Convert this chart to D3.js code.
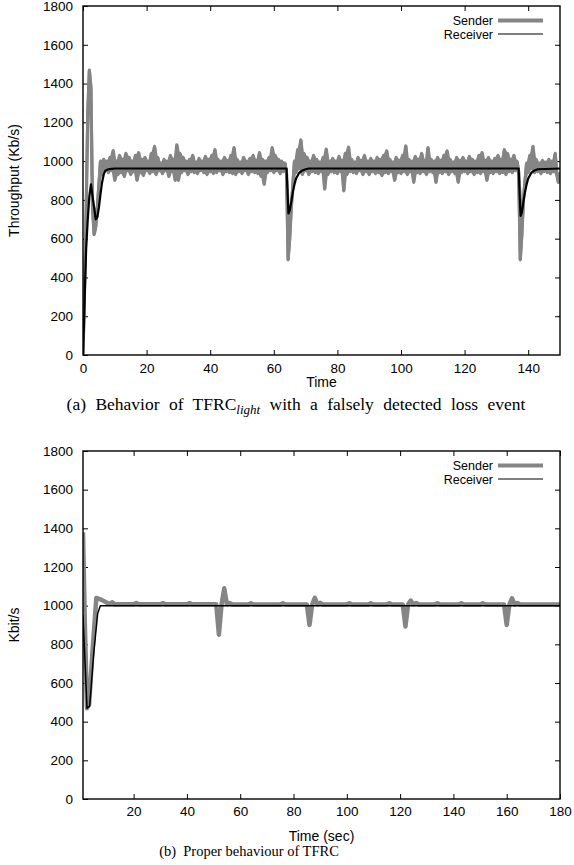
<!DOCTYPE html>
<html>
<head>
<meta charset="utf-8">
<script src="https://cdn.jsdelivr.net/npm/d3@7"></script>
<style>
  body { margin: 0; background: #fff; }
  svg { display: block; font-family: "Liberation Sans", Arial, sans-serif; }
</style>
</head>
<body>
<svg id="chart" width="574" height="865"></svg>
<script>
// ---- data ----
const yTicks = [0, 200, 400, 600, 800, 1000, 1200, 1400, 1600, 1800];
const topXTicks = [0, 20, 40, 60, 80, 100, 120, 140];
const bottomXTicks = [20, 40, 60, 80, 100, 120, 140, 160, 180];

// panel (a): sender sampled every 0.5 s from 0 to 150
const topSender = [
  0, 350, 750, 1250, 1470, 1380, 760, 620, 660, 760, 880, 1000, 930, 1010, 960, 1000, 940, 1020, 950, 1055,
  900, 1000, 930, 1030, 940, 1010, 920, 1040, 950, 1020, 930, 1000, 945, 1030, 900, 1045, 940, 1010, 925, 1020,
  950, 1000, 935, 1040, 945, 1077, 930, 1020, 950, 990, 935, 1010, 950, 1000, 920, 1030, 945, 1010, 900, 1085,
  900, 1040, 940, 1020, 950, 1000, 930, 1010, 945, 1030, 940, 995, 935, 1015, 950, 1000, 940, 1025, 930, 1010,
  945, 1030, 935, 1060, 940, 1010, 950, 1000, 930, 1020, 945, 1005, 940, 1030, 935, 1070, 930, 1010, 945, 995,
  935, 1020, 950, 1000, 930, 1015, 945, 1030, 940, 1005, 935, 1045, 920, 1010, 880, 1000, 940, 1020, 950, 1070,
  940, 1030, 950, 1010, 935, 1000, 945, 990, 940, 490, 600, 760, 880, 1000, 940, 1060, 960, 1110, 930, 1040,
  950, 1020, 930, 1000, 945, 1030, 940, 1010, 935, 995, 945, 1020, 855, 1063, 930, 1000, 945, 1015, 940, 1000,
  935, 1025, 945, 1005, 846, 1040, 930, 1073, 945, 1010, 940, 995, 935, 1020, 950, 1005, 930, 1030, 945, 1000,
  930, 1015, 945, 1000, 935, 1020, 940, 1010, 925, 1030, 940, 1053, 935, 1010, 945, 995, 900, 1020, 940, 1005,
  935, 1030, 945, 1079, 930, 1010, 945, 1000, 890, 1025, 940, 1010, 935, 1040, 945, 1005, 930, 1070, 945, 1010,
  940, 1000, 890, 1020, 940, 1005, 935, 1030, 945, 1053, 930, 1010, 945, 995, 935, 1020, 890, 1005, 940, 1020,
  945, 1000, 935, 1025, 945, 1010, 930, 1000, 940, 1030, 935, 1045, 945, 1005, 900, 1020, 940, 1000, 935, 1015,
  945, 1030, 935, 1010, 940, 1060, 930, 1040, 945, 1010, 940, 1030, 950, 1000, 945, 490, 620, 800, 900, 990,
  940, 1030, 960, 1077, 940, 1010, 945, 990, 935, 1005, 945, 995, 940, 1010, 935, 1000, 945, 1040, 930, 890,
  940
];
const topSenderTime = d3.range(topSender.length).map(i => i * 0.5);

const topReceiverTime = [0, 0.3, 0.7, 1, 1.5, 2, 2.5, 3, 3.5, 4, 4.5, 5, 5.5, 6, 6.5, 7, 8, 9, 10,
  64, 64.3, 64.6, 65, 65.5, 66, 66.5, 67, 68, 69, 70, 71,
  137, 137.3, 137.6, 138, 138.5, 139, 139.5, 140, 141, 142, 143, 150];
const topReceiver = [0, 150, 400, 550, 700, 820, 880, 820, 760, 700, 710, 760, 830, 890, 930, 950, 958, 960, 962,
  962, 850, 730, 745, 790, 840, 880, 910, 940, 952, 958, 962,
  962, 830, 718, 735, 790, 840, 880, 910, 940, 952, 958, 962];

// panel (b)
const bottomSenderTime = [1, 1.7, 2.5, 3.3, 4.5, 6, 8, 10, 11, 12, 13, 20, 21, 22, 30, 31, 32, 40, 41, 42,
  51, 52, 53, 54, 55, 56, 57, 63, 64, 65, 75, 76, 77, 85, 86, 87, 88, 89, 90, 91,
  100, 101, 102, 108, 109, 110, 115, 116, 117, 121, 122, 123, 124, 125, 126, 127,
  133, 134, 135, 142, 143, 144, 150, 151, 152, 159, 160, 161, 162, 163, 164, 165, 180];
const bottomSender = [1380, 900, 470, 490, 750, 1040, 1030, 1015, 1010, 1017, 1007, 1007, 1014, 1007, 1007, 1013, 1007, 1007, 1013, 1007,
  1007, 850, 1007, 1090, 1007, 1014, 1006, 1006, 1013, 1006, 1006, 1013, 1006, 1006, 900, 1006, 1040, 1006, 1015, 1006,
  1006, 1013, 1006, 1006, 1013, 1006, 1006, 1013, 1006, 1006, 892, 1006, 1026, 1006, 1014, 1006,
  1006, 1013, 1006, 1006, 1013, 1006, 1006, 1013, 1006, 1006, 900, 1006, 1038, 1006, 1014, 1006, 1006];
const bottomReceiverTime = [1, 2.5, 3.5, 5, 6.5, 7.5, 180];
const bottomReceiver = [950, 470, 480, 750, 960, 1000, 1000];

const svg = d3.select('#chart');
const grey = '#858585';

function panel(opt) {
  const left = 83, right = 560;
  const top = opt.top, bottom = opt.bottom;
  const g = svg.append('g');

  const x = d3.scaleLinear().domain(opt.xDomain).range([left, right]);
  const y = d3.scaleLinear().domain([0, 1800]).range([bottom, top]);

  const clipId = 'clip' + opt.id;
  g.append('clipPath').attr('id', clipId)
    .append('rect').attr('x', left).attr('y', top)
    .attr('width', right - left).attr('height', bottom - top);

  // axes with inward ticks, mirrored on top/right
  const tick = 5;
  g.append('g').attr('transform', `translate(${left},0)`)
    .call(d3.axisLeft(y).tickValues(yTicks).tickSize(-tick).tickPadding(10).tickFormat(d3.format('d')))
    .call(a => a.select('.domain').remove());
  g.append('g').attr('transform', `translate(${right},0)`)
    .call(d3.axisRight(y).tickValues(yTicks.slice(1, -1)).tickSize(-tick).tickFormat(''))
    .call(a => a.select('.domain').remove());
  g.append('g').attr('transform', `translate(0,${bottom})`)
    .call(d3.axisBottom(x).tickValues(opt.xTicks).tickSize(-tick).tickPadding(opt.xPad).tickFormat(d3.format('d')))
    .call(a => a.select('.domain').remove());
  g.append('g').attr('transform', `translate(0,${top})`)
    .call(d3.axisTop(x).tickValues(opt.xTicks).tickSize(-tick).tickFormat(''))
    .call(a => a.select('.domain').remove());
  g.selectAll('.tick text').attr('font-size', 13.5).attr('font-family', '"Liberation Sans", Arial, sans-serif').attr('fill', '#000');
  g.selectAll('.tick line').attr('stroke', '#000');

  const line = d3.line().x(d => x(d[0])).y(d => y(d[1]));
  const senderPts = opt.senderTime.map((t, i) => [t, opt.sender[i]]);

  const plot = g.append('g').attr('clip-path', `url(#${clipId})`);
  if (opt.band) {
    // the thick, fast-oscillating sender trace reads as a solid band
    const n = senderPts.length;
    const around = i => [opt.sender[Math.max(0, i - 1)], opt.sender[i], opt.sender[Math.min(n - 1, i + 1)]];
    plot.append('path')
      .datum(senderPts.map((d, i) => i))
      .attr('fill', grey)
      .attr('d', d3.area()
        .x(i => x(senderPts[i][0]))
        .y0(i => y(d3.min(around(i))))
        .y1(i => y(d3.max(around(i)))));
  }
  plot.append('path')
    .datum(senderPts)
    .attr('fill', 'none').attr('stroke', grey)
    .attr('stroke-width', opt.senderWidth).attr('stroke-linejoin', 'round')
    .attr('d', line);
  plot.append('path')
    .datum(opt.receiverTime.map((t, i) => [t, opt.receiver[i]]))
    .attr('fill', 'none').attr('stroke', '#000')
    .attr('stroke-width', opt.receiverWidth).attr('stroke-linejoin', 'round')
    .attr('d', line);

  // frame
  g.append('rect').attr('x', left).attr('y', top)
    .attr('width', right - left).attr('height', bottom - top)
    .attr('fill', 'none').attr('stroke', '#000').attr('stroke-width', 1.4);

  // legend
  const lg = g.append('g').attr('font-size', 12.5).attr('text-anchor', 'end');
  lg.append('text').attr('x', 493).attr('y', top + 18.5).text('Sender');
  lg.append('line').attr('x1', 498).attr('x2', 543).attr('y1', top + 14.5).attr('y2', top + 14.5)
    .attr('stroke', grey).attr('stroke-width', 4);
  lg.append('text').attr('x', 493).attr('y', top + 32.5).text('Receiver');
  lg.append('line').attr('x1', 498).attr('x2', 543).attr('y1', top + 28).attr('y2', top + 28)
    .attr('stroke', '#000').attr('stroke-width', 1.2);

  // axis titles
  g.append('text').attr('transform', `translate(19,${(top + bottom) / 2}) rotate(-90)`)
    .attr('text-anchor', 'middle').attr('font-size', 14).text(opt.yTitle);
  g.append('text').attr('x', (left + right) / 2).attr('y', opt.xTitleY)
    .attr('text-anchor', 'middle').attr('font-size', 14).text(opt.xTitle);
}

panel({
  id: 'a', top: 6, bottom: 355, xDomain: [0, 150], xTicks: topXTicks, xPad: 8,
  senderTime: topSenderTime, sender: topSender, receiverTime: topReceiverTime, receiver: topReceiver,
  senderWidth: 3, receiverWidth: 2.2, band: true,
  yTitle: 'Throughput (Kb/s)', xTitle: 'Time', xTitleY: 387
});

panel({
  id: 'b', top: 451, bottom: 799, xDomain: [1, 180], xTicks: bottomXTicks, xPad: 7,
  senderTime: bottomSenderTime, sender: bottomSender, receiverTime: bottomReceiverTime, receiver: bottomReceiver,
  senderWidth: 4.5, receiverWidth: 1.5, band: false,
  yTitle: 'Kbit/s', xTitle: 'Time (sec)', xTitleY: 841
});

// captions
const capA = svg.append('text').attr('x', 296).attr('y', 410)
  .attr('text-anchor', 'middle').attr('font-size', 17.5).attr('word-spacing', 5)
  .attr('font-family', '"Liberation Serif", "Times New Roman", serif');
capA.append('tspan').text('(a) Behavior of TFRC');
capA.append('tspan').attr('font-style', 'italic').attr('font-size', 13).attr('dy', 3.5).text('light');
capA.append('tspan').attr('dy', -3.5).text(' with a falsely detected loss event');

svg.append('text').attr('x', 249).attr('y', 856)
  .attr('text-anchor', 'middle').attr('font-size', 14.5)
  .attr('font-family', '"Liberation Serif", "Times New Roman", serif')
  .attr('xml:space', 'preserve')
  .text('(b)  Proper behaviour of TFRC');
</script>
</body>
</html>
